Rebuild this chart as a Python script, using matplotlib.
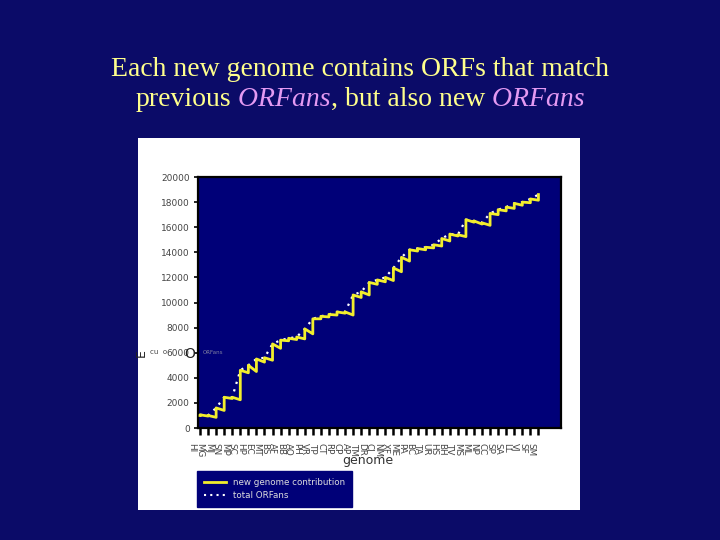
import matplotlib
matplotlib.use("Agg")
import matplotlib.pyplot as plt
from matplotlib.lines import Line2D
from matplotlib.transforms import ScaledTranslation

# genomes in order of sequencing
genomes = ["HI", "MG", "MJ", "SN", "MP", "SC", "HP", "EC", "MT", "BS", "AF",
           "BB", "AQ", "PH", "VR", "TP", "CT", "RP", "CP", "AP", "TM", "DR",
           "CJ", "NM", "XF", "ME", "PA", "BC", "TA", "UR", "HS", "BH", "TV",
           "MS", "ML", "NP", "CC", "SP", "SA", "LL", "VJ", "SF", "SM"]

# ORFans left after matching the new genome (bottom of each step)
before_new = [1000, 950, 850, 1400, 2350, 2250, 4400, 4500, 5250, 5400, 6350,
              6950, 7050, 7100, 7500, 8700, 8850, 9000, 9150, 9000, 10400, 10600,
              11450, 11650, 11750, 12450, 13300, 14100, 14200, 14350, 14500,
              14900, 15300, 15250, 16400, 16250, 16150, 17000, 17300, 17500,
              17750, 17950, 18150]
# total ORFans after adding the genome's own new ORFans (top of each step)
total_orfans = [1050, 1000, 1600, 2450, 2450, 4600, 5000, 5500, 5600, 6700, 7000,
                7150, 7250, 7900, 8700, 8900, 9050, 9250, 9250, 10600, 10850, 11600,
                11800, 12000, 12750, 13600, 14200, 14300, 14400, 14600, 15100,
                15450, 15400, 16600, 16500, 16350, 17100, 17400, 17600, 17900,
                18000, 18250, 18600]

y_ticks = [0, 2000, 4000, 6000, 8000, 10000, 12000, 14000, 16000, 18000, 20000]

slide_bg = "#0b0b68"
plot_bg = "#000078"
yellow = "#f2ee2c"

fig = plt.figure(figsize=(7.2, 5.4), dpi=100, facecolor=slide_bg)

# white panel holding the pasted chart
panel = fig.add_axes([138 / 720, 30 / 540, 442 / 720, 372 / 540], zorder=0)
panel.set_facecolor("white")
panel.set_xticks([])
panel.set_yticks([])
for sp in panel.spines.values():
    sp.set_visible(False)

ax = fig.add_axes([198 / 720, 112 / 540, 363 / 720, 251 / 540], zorder=1)
ax.set_facecolor(plot_bg)

xs = list(range(len(genomes)))
step_x, step_y = [], []
for i in xs:
    step_x += [i, i]
    step_y += [before_new[i], total_orfans[i]]
ax.plot(step_x, step_y, color=yellow, lw=2.0, zorder=3)
ax.plot(xs, total_orfans, color="white", lw=1.6, ls=(0, (1, 2.5)), zorder=2)

ax.set_xlim(-0.25, 44.8)
ax.set_ylim(0, 20000)
ax.set_yticks(y_ticks)
ax.set_yticklabels([str(v) for v in y_ticks])
ax.set_xticks(xs)
ax.set_xticklabels(genomes, rotation=-90, fontsize=6.3, color="#444444")
ax.tick_params(axis="y", labelsize=6.5, labelcolor="#444444", length=3,
               width=1.2, color="black", pad=3)
ax.tick_params(axis="x", length=5, width=1.8, color="black", pad=6)
for lab in ax.get_xticklabels():
    lab.set_transform(lab.get_transform() + ScaledTranslation(-8 / 100, 0, fig.dpi_scale_trans))
for sp in ax.spines.values():
    sp.set_color("black")
    sp.set_linewidth(1.6)

ax.set_xlabel("genome", fontsize=9, color="#333333")
ax.xaxis.set_label_coords((368 - 198) / 363, -0.105)

# scrambled axis title from the original slide
fig.text(141 / 720, 1 - 353 / 540, "E", rotation=90, fontsize=9, color="#222222",
         ha="center", va="center", zorder=5)
fig.text(150 / 720, 1 - 352 / 540, "cu  o", fontsize=5, color="#444444",
         ha="left", va="center", zorder=5)
fig.text(190 / 720, 1 - 354 / 540, "O", fontsize=10, color="#222222",
         ha="center", va="center", zorder=5)
fig.text(203 / 720, 1 - 352 / 540, "ORFans", fontsize=4, color="#8080a0",
         ha="left", va="center", zorder=5)

handles = [Line2D([], [], color=yellow, lw=2),
           Line2D([], [], color="white", lw=1.5, ls=(0, (1, 2)))]
leg = fig.legend(handles, ["new genome contribution", "total ORFans"],
                 loc="upper left", bbox_to_anchor=(197 / 720, 1 - 471 / 540),
                 fontsize=6.3, frameon=True, fancybox=False, borderaxespad=0,
                 handlelength=2.5, borderpad=0.8, labelspacing=0.45)
leg.set_zorder(5)
leg.get_frame().set_facecolor(plot_bg)
leg.get_frame().set_edgecolor(plot_bg)
leg.get_frame().set_alpha(1)
for t in leg.get_texts():
    t.set_color("#dddddd")

# title
title_font = dict(family="Liberation Serif", fontsize=20)
fig.text(0.5, 1 - 76 / 540, "Each new genome contains ORFs that match",
         ha="center", va="baseline", color="#ffff8c", **title_font)

segments = [("previous", "#ffff8c", "normal"), (" ORFans", "#e49af2", "italic"),
            (", but also new", "#ffff8c", "normal"), (" ORFans", "#e49af2", "italic")]
first = fig.text(0, 1 - 106 / 540, segments[0][0], color=segments[0][1],
                 style=segments[0][2], ha="left", va="baseline", **title_font)
texts = [first]
for s, c, st in segments[1:]:
    t = ax.annotate(s, xy=(1, 0), xycoords=texts[-1], color=c, style=st,
                    ha="left", va="bottom", annotation_clip=False, **title_font)
    texts.append(t)
fig.canvas.draw()
r = fig.canvas.get_renderer()
width = texts[-1].get_window_extent(r).x1 - texts[0].get_window_extent(r).x0
first.set_x((360 - width / 2) / 720)

fig.savefig("out.png", dpi=100, facecolor=slide_bg)
